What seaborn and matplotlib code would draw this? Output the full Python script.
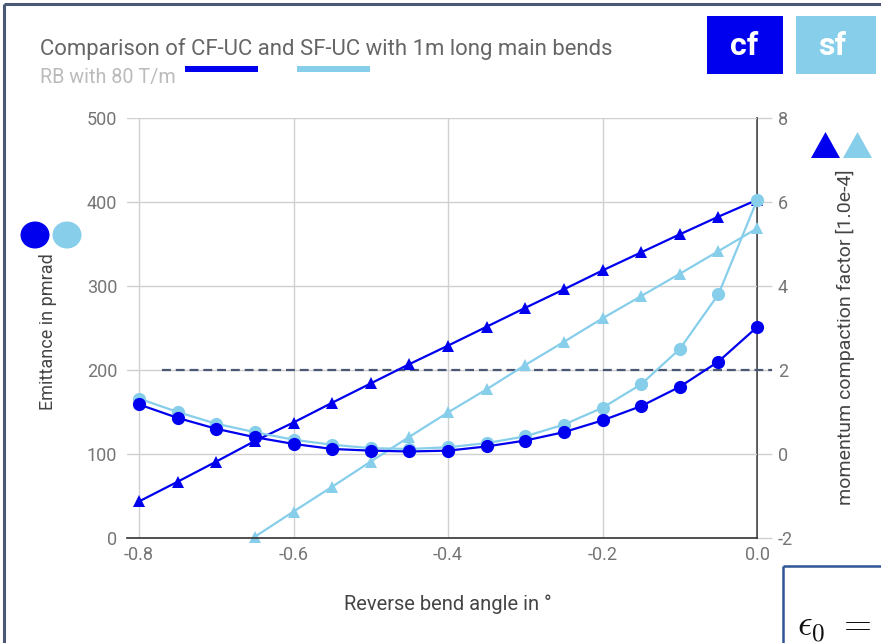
import numpy as np
import pandas as pd
import matplotlib
matplotlib.use("Agg")
import matplotlib.pyplot as plt
import matplotlib.patches as mpatches
import seaborn as sns

# reverse bend angle in degrees
angles = [-0.8, -0.75, -0.7, -0.65, -0.6, -0.55, -0.5, -0.45, -0.4,
          -0.35, -0.3, -0.25, -0.2, -0.15, -0.1, -0.05, 0.0]
# emittance in pm rad
cf_emit = [159, 143, 130, 120, 112, 106, 104, 103, 104,
           109, 116, 126, 140, 157, 180, 210, 251]
sf_emit = [166, 150, 136, 126, 117, 111, 107, 106, 108,
           113, 121, 135, 155, 183, 225, 290, 402]
# momentum compaction factor [1e-4]
cf_alpha = [-1.13, -0.66, -0.18, 0.31, 0.75, 1.22, 1.68, 2.14, 2.58,
            3.03, 3.48, 3.92, 4.37, 4.80, 5.23, 5.65, 6.05]
sf_alpha = [np.nan, np.nan, np.nan, -1.97, -1.37, -0.78, -0.18, 0.41, 0.99,
            1.54, 2.12, 2.67, 3.23, 3.76, 4.29, 4.83, 5.37]
# target emittance line
target_x = [-0.77, 0.02]
target_emit = [200, 200]

x_ticks = [-0.8, -0.6, -0.4, -0.2, 0.0]
left_ticks = [0, 100, 200, 300, 400, 500]
right_ticks = [-2, 0, 2, 4, 6, 8]

CF = "#0000ee"
SF = "#87ceeb"
FRAME = "#4a5874"

df = pd.DataFrame({"angle": angles, "cf_emit": cf_emit, "sf_emit": sf_emit,
                   "cf_alpha": cf_alpha, "sf_alpha": sf_alpha})

sns.set_theme(style="white")
plt.rcParams["font.family"] = ["Roboto", "DejaVu Sans"]
plt.rcParams["mathtext.fontset"] = "cm"

W, H = 881, 643
fig = plt.figure(figsize=(W / 100, H / 100), dpi=100)
fig.patch.set_facecolor("white")

# plot area in pixel coords
x0, x1, y0, y1 = 127, 757, 118, 538
ax = fig.add_axes([x0 / W, 1 - y1 / H, (x1 - x0) / W, (y1 - y0) / H])
ax2 = ax.twinx()

for a in (ax, ax2):
    a.set_facecolor("none")
    for s in a.spines.values():
        s.set_visible(False)
ax.set_zorder(2)
ax2.set_zorder(1)

xmin = -0.8 - (139 - 127) / 772.5
ax.set_xlim(xmin, 0.0)
ax.set_ylim(0, 500)
ax2.set_ylim(-2, 8)

# grid
ax.set_xticks(x_ticks)
ax.set_yticks(left_ticks)
ax2.set_yticks(right_ticks)
ax.grid(True, color="#d0d0d0", lw=1.0)
ax.set_axisbelow(True)
ax2.grid(False)

ax.spines["bottom"].set_visible(True)
ax.spines["bottom"].set_color("#333333")
ax.spines["bottom"].set_linewidth(1.2)
ax2.spines["right"].set_visible(True)
ax2.spines["right"].set_color("#333333")
ax2.spines["right"].set_linewidth(1.2)

tick_color = "#757575"
ax.tick_params(axis="x", length=0, pad=6, labelsize=13, labelcolor=tick_color)
ax.tick_params(axis="y", length=0, pad=7, labelsize=13, labelcolor=tick_color)
ax2.tick_params(axis="y", length=11, width=1, color="#d0d0d0", pad=4,
                labelsize=13, labelcolor=tick_color)
ax.set_xticklabels(["-0.8", "-0.6", "-0.4", "-0.2", "0.0"])
ax.set_yticklabels([str(t) for t in left_ticks])
ax2.set_yticklabels([str(t) for t in right_ticks])

# target line
ax.plot(target_x, target_emit, color=FRAME, lw=1.6, ls=(0, (4, 2.2)),
        clip_on=False, zorder=1)

# momentum compaction (triangles, right axis) drawn on ax scale
line_kw = dict(lw=1.6, markeredgewidth=0, clip_on=False)
sns.lineplot(data=df, x="angle", y=df["cf_alpha"] * 50 + 100, ax=ax, color=CF,
             marker="^", markersize=8, **line_kw)
sns.lineplot(data=df.dropna(), x="angle", y=df.dropna()["sf_alpha"] * 50 + 100,
             ax=ax, color=SF, marker="^", markersize=8, **line_kw)
# emittance (circles, left axis)
sns.lineplot(data=df, x="angle", y="sf_emit", ax=ax, color=SF,
             marker="o", markersize=9.5, **line_kw)
sns.lineplot(data=df, x="angle", y="cf_emit", ax=ax, color=CF,
             marker="o", markersize=9.5, **line_kw)
ax.set_xlim(xmin, 0.0)
ax.set_ylim(0, 500)

label_color = "#444444"
ax.set_xlabel("Reverse bend angle in °", fontsize=14.5, color=label_color)
ax.set_ylabel("Emittance in pmrad", fontsize=13, color=label_color)
ax2.set_ylabel("momentum compaction factor [1.0e-4]", fontsize=14, color=label_color)
ax.xaxis.set_label_coords((448 - x0) / (x1 - x0), -(604 - y1) / (y1 - y0))
ax.yaxis.set_label_coords(-(x0 - 48) / (x1 - x0), (y1 - 332) / (y1 - y0))
ax2.yaxis.set_label_coords((845 - x0) / (x1 - x0), (y1 - 337) / (y1 - y0))
ax.xaxis.label.set_va("center")
ax.yaxis.label.set_va("center")
ax2.yaxis.label.set_va("center")

# overlay for decorations, pixel coordinates
ov = fig.add_axes([0, 0, 1, 1], zorder=5)
ov.set_xlim(0, W)
ov.set_ylim(H, 0)
ov.axis("off")
ov.patch.set_alpha(0)

ov.plot([4, W], [4, 4], color=FRAME, lw=2.2, solid_capstyle="butt")
ov.plot([4, 4], [4, H], color=FRAME, lw=2.2, solid_capstyle="butt")

ov.text(40, 49, "Comparison of CF-UC and SF-UC with 1m long main bends",
        fontsize=15.9, color="#666666", va="center", ha="left")
ov.text(40, 78, "RB with 80 T/m", fontsize=14.2, color="#bbbbbb", va="center", ha="left")
ov.add_patch(mpatches.Rectangle((185, 66), 73, 6, color=CF, lw=0))
ov.add_patch(mpatches.Rectangle((297, 66), 73, 6, color=SF, lw=0))

ov.add_patch(mpatches.Rectangle((707, 16), 76, 58, color=CF, lw=0))
ov.add_patch(mpatches.Rectangle((796, 16), 80, 58, color=SF, lw=0))
ov.text(744, 46, "cf", fontsize=23, fontweight="bold", color="white", ha="center", va="center")
ov.text(832, 46, "sf", fontsize=23, fontweight="bold", color="white", ha="center", va="center")

ov.add_patch(mpatches.Ellipse((35, 235), 29, 27, color=CF, lw=0))
ov.add_patch(mpatches.Ellipse((67, 235), 29, 27, color=SF, lw=0))
ov.add_patch(mpatches.Polygon([(811, 158), (840, 158), (825.5, 132)], color=CF, lw=0))
ov.add_patch(mpatches.Polygon([(843, 158), (872, 158), (857.5, 132)], color=SF, lw=0))

ov.plot([783, W], [566, 566], color="#2f5597", lw=1.8, solid_capstyle="butt")
ov.plot([783, 783], [566, H], color="#2f5597", lw=1.8, solid_capstyle="butt")
ov.text(797, 636, r"$\epsilon_0\ =$", fontsize=26, color="#111111", ha="left", va="baseline")

fig.savefig("out.png", dpi=100, facecolor="white")
